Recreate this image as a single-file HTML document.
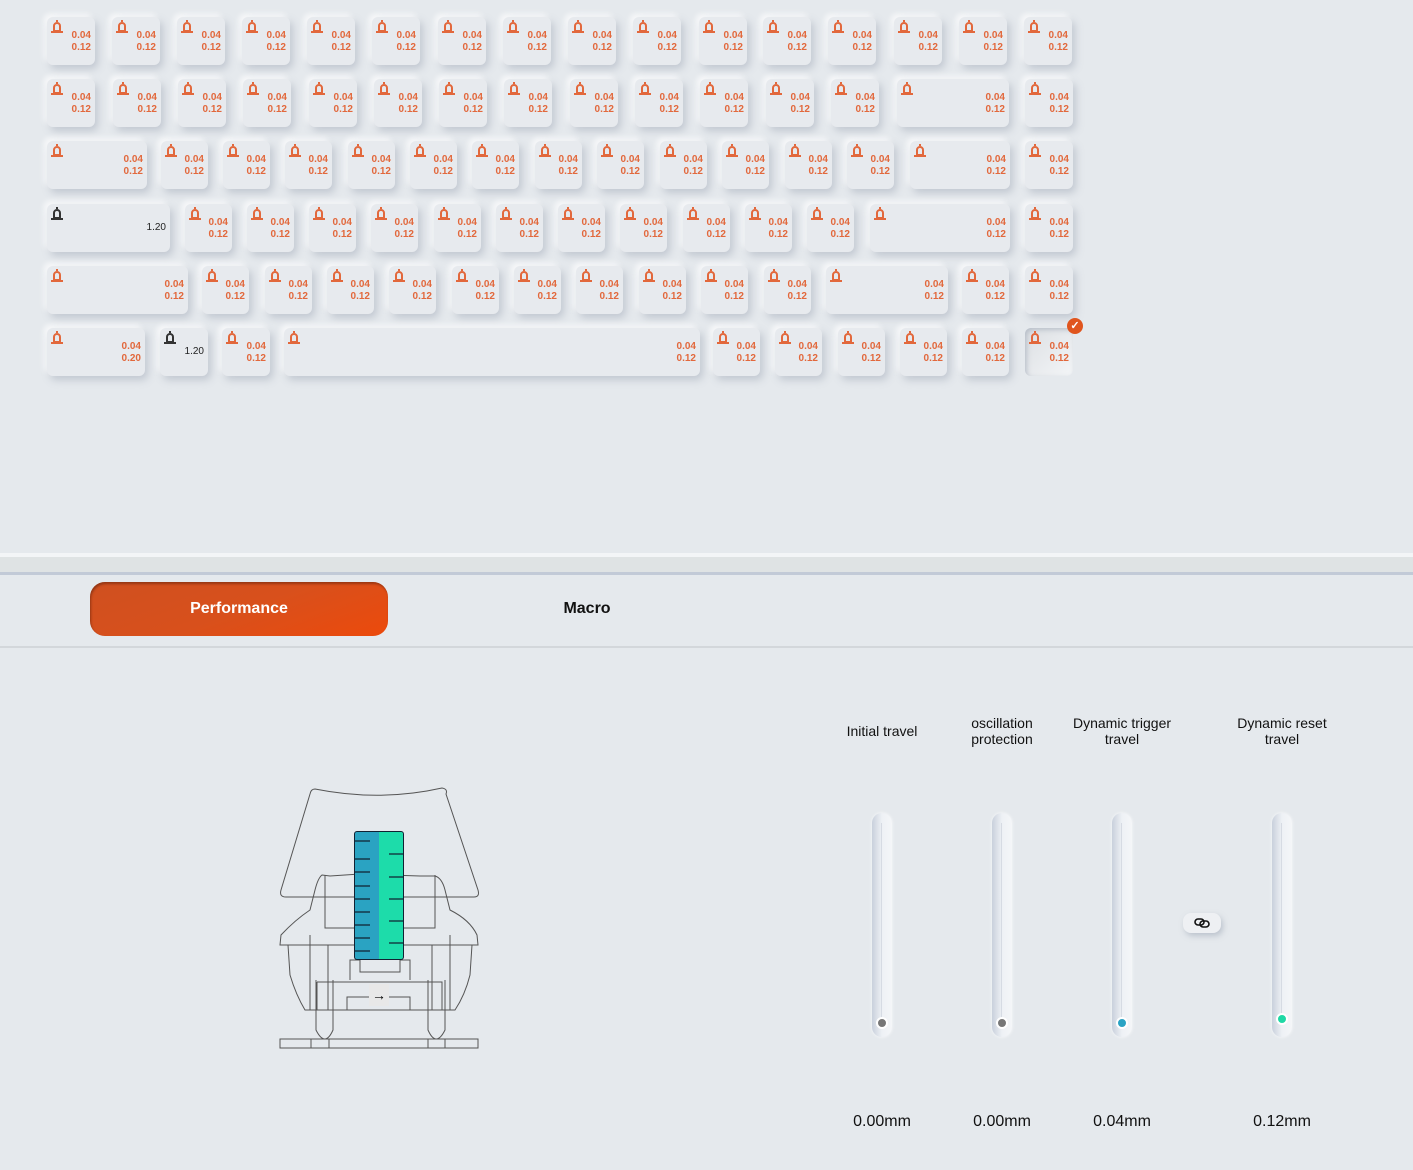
<!DOCTYPE html>
<html><head><meta charset="utf-8"><style>
*{margin:0;padding:0;box-sizing:border-box}
body{width:1413px;height:1170px;background:#e5e9ed;font-family:"Liberation Sans",sans-serif;position:relative;overflow:hidden}
.k{position:absolute;height:48px;width:48px;background:#e7eaee;border-radius:6px;box-shadow:3px 4px 8px rgba(150,160,175,.45),-3px -3px 6px rgba(255,255,255,.8)}
.k i{position:absolute;left:6px;top:5px;width:8px;height:10px;border:2px solid #e2683c;border-radius:5px 5px 2px 2px}
.k i:after{content:"";position:absolute;left:-4px;bottom:-3px;width:12px;height:2px;background:#e2683c}
.k i:before{content:"";position:absolute;left:1px;top:-4px;width:2px;height:2px;background:#e2683c}
.k b{position:absolute;right:4px;top:13px;font-size:10px;line-height:12px;color:#e2683c;text-align:right;font-weight:bold}
.k.d i{border-color:#333}.k.d i:after,.k.d i:before{background:#333}
.k.d b{color:#222;top:18px;font-weight:normal;font-size:10px}
.sel{background:linear-gradient(135deg,#dcdfe3,#f3f5f7);box-shadow:inset 2px 2px 5px rgba(150,160,175,.5)}
.chk{position:absolute;left:1067px;top:318px;width:16px;height:16px;border-radius:50%;background:#e0551e;color:#fff;font-size:11px;line-height:16px;text-align:center;font-weight:bold}
.t{position:absolute;width:20px;height:224px;border-radius:10px;background:linear-gradient(90deg,#c9d0dc,#eef1f5 50%,#f4f6f8);box-shadow:0 0 3px rgba(255,255,255,.8)}
.t:after{content:"";position:absolute;left:9px;top:10px;width:1px;height:200px;background:#d6dbe3}
.dot{position:absolute;width:12px;height:12px;border-radius:50%;border:2px solid #fff}
.lb{position:absolute;width:140px;text-align:center;font-size:14px;line-height:16px;color:#111}
.v{position:absolute;width:120px;text-align:center;font-size:16px;color:#111;top:1113px}
</style></head><body>
<div class="k" style="left:47px;top:17px"><i></i><b>0.04<br>0.12</b></div>
<div class="k" style="left:112px;top:17px"><i></i><b>0.04<br>0.12</b></div>
<div class="k" style="left:177px;top:17px"><i></i><b>0.04<br>0.12</b></div>
<div class="k" style="left:242px;top:17px"><i></i><b>0.04<br>0.12</b></div>
<div class="k" style="left:307px;top:17px"><i></i><b>0.04<br>0.12</b></div>
<div class="k" style="left:372px;top:17px"><i></i><b>0.04<br>0.12</b></div>
<div class="k" style="left:438px;top:17px"><i></i><b>0.04<br>0.12</b></div>
<div class="k" style="left:503px;top:17px"><i></i><b>0.04<br>0.12</b></div>
<div class="k" style="left:568px;top:17px"><i></i><b>0.04<br>0.12</b></div>
<div class="k" style="left:633px;top:17px"><i></i><b>0.04<br>0.12</b></div>
<div class="k" style="left:699px;top:17px"><i></i><b>0.04<br>0.12</b></div>
<div class="k" style="left:763px;top:17px"><i></i><b>0.04<br>0.12</b></div>
<div class="k" style="left:828px;top:17px"><i></i><b>0.04<br>0.12</b></div>
<div class="k" style="left:894px;top:17px"><i></i><b>0.04<br>0.12</b></div>
<div class="k" style="left:959px;top:17px"><i></i><b>0.04<br>0.12</b></div>
<div class="k" style="left:1024px;top:17px"><i></i><b>0.04<br>0.12</b></div>

<div class="k" style="left:47px;top:79px"><i></i><b>0.04<br>0.12</b></div>
<div class="k" style="left:113px;top:79px"><i></i><b>0.04<br>0.12</b></div>
<div class="k" style="left:178px;top:79px"><i></i><b>0.04<br>0.12</b></div>
<div class="k" style="left:243px;top:79px"><i></i><b>0.04<br>0.12</b></div>
<div class="k" style="left:309px;top:79px"><i></i><b>0.04<br>0.12</b></div>
<div class="k" style="left:374px;top:79px"><i></i><b>0.04<br>0.12</b></div>
<div class="k" style="left:439px;top:79px"><i></i><b>0.04<br>0.12</b></div>
<div class="k" style="left:504px;top:79px"><i></i><b>0.04<br>0.12</b></div>
<div class="k" style="left:570px;top:79px"><i></i><b>0.04<br>0.12</b></div>
<div class="k" style="left:635px;top:79px"><i></i><b>0.04<br>0.12</b></div>
<div class="k" style="left:700px;top:79px"><i></i><b>0.04<br>0.12</b></div>
<div class="k" style="left:766px;top:79px"><i></i><b>0.04<br>0.12</b></div>
<div class="k" style="left:831px;top:79px"><i></i><b>0.04<br>0.12</b></div>
<div class="k" style="left:897px;top:79px;width:112px"><i></i><b>0.04<br>0.12</b></div>
<div class="k" style="left:1025px;top:79px"><i></i><b>0.04<br>0.12</b></div>

<div class="k" style="left:47px;top:141px;width:100px"><i></i><b>0.04<br>0.12</b></div>
<div class="k" style="left:161px;top:141px;width:47px"><i></i><b>0.04<br>0.12</b></div>
<div class="k" style="left:223px;top:141px;width:47px"><i></i><b>0.04<br>0.12</b></div>
<div class="k" style="left:285px;top:141px;width:47px"><i></i><b>0.04<br>0.12</b></div>
<div class="k" style="left:348px;top:141px;width:47px"><i></i><b>0.04<br>0.12</b></div>
<div class="k" style="left:410px;top:141px;width:47px"><i></i><b>0.04<br>0.12</b></div>
<div class="k" style="left:472px;top:141px;width:47px"><i></i><b>0.04<br>0.12</b></div>
<div class="k" style="left:535px;top:141px;width:47px"><i></i><b>0.04<br>0.12</b></div>
<div class="k" style="left:597px;top:141px;width:47px"><i></i><b>0.04<br>0.12</b></div>
<div class="k" style="left:660px;top:141px;width:47px"><i></i><b>0.04<br>0.12</b></div>
<div class="k" style="left:722px;top:141px;width:47px"><i></i><b>0.04<br>0.12</b></div>
<div class="k" style="left:785px;top:141px;width:47px"><i></i><b>0.04<br>0.12</b></div>
<div class="k" style="left:847px;top:141px;width:47px"><i></i><b>0.04<br>0.12</b></div>
<div class="k" style="left:910px;top:141px;width:100px"><i></i><b>0.04<br>0.12</b></div>
<div class="k" style="left:1025px;top:141px"><i></i><b>0.04<br>0.12</b></div>

<div class="k d" style="left:47px;top:204px;width:123px"><i></i><b>1.20</b></div>
<div class="k" style="left:185px;top:204px;width:47px"><i></i><b>0.04<br>0.12</b></div>
<div class="k" style="left:247px;top:204px;width:47px"><i></i><b>0.04<br>0.12</b></div>
<div class="k" style="left:309px;top:204px;width:47px"><i></i><b>0.04<br>0.12</b></div>
<div class="k" style="left:371px;top:204px;width:47px"><i></i><b>0.04<br>0.12</b></div>
<div class="k" style="left:434px;top:204px;width:47px"><i></i><b>0.04<br>0.12</b></div>
<div class="k" style="left:496px;top:204px;width:47px"><i></i><b>0.04<br>0.12</b></div>
<div class="k" style="left:558px;top:204px;width:47px"><i></i><b>0.04<br>0.12</b></div>
<div class="k" style="left:620px;top:204px;width:47px"><i></i><b>0.04<br>0.12</b></div>
<div class="k" style="left:683px;top:204px;width:47px"><i></i><b>0.04<br>0.12</b></div>
<div class="k" style="left:745px;top:204px;width:47px"><i></i><b>0.04<br>0.12</b></div>
<div class="k" style="left:807px;top:204px;width:47px"><i></i><b>0.04<br>0.12</b></div>
<div class="k" style="left:870px;top:204px;width:140px"><i></i><b>0.04<br>0.12</b></div>
<div class="k" style="left:1025px;top:204px"><i></i><b>0.04<br>0.12</b></div>

<div class="k" style="left:47px;top:266px;width:141px"><i></i><b>0.04<br>0.12</b></div>
<div class="k" style="left:202px;top:266px;width:47px"><i></i><b>0.04<br>0.12</b></div>
<div class="k" style="left:265px;top:266px;width:47px"><i></i><b>0.04<br>0.12</b></div>
<div class="k" style="left:327px;top:266px;width:47px"><i></i><b>0.04<br>0.12</b></div>
<div class="k" style="left:389px;top:266px;width:47px"><i></i><b>0.04<br>0.12</b></div>
<div class="k" style="left:452px;top:266px;width:47px"><i></i><b>0.04<br>0.12</b></div>
<div class="k" style="left:514px;top:266px;width:47px"><i></i><b>0.04<br>0.12</b></div>
<div class="k" style="left:576px;top:266px;width:47px"><i></i><b>0.04<br>0.12</b></div>
<div class="k" style="left:639px;top:266px;width:47px"><i></i><b>0.04<br>0.12</b></div>
<div class="k" style="left:701px;top:266px;width:47px"><i></i><b>0.04<br>0.12</b></div>
<div class="k" style="left:764px;top:266px;width:47px"><i></i><b>0.04<br>0.12</b></div>
<div class="k" style="left:826px;top:266px;width:122px"><i></i><b>0.04<br>0.12</b></div>
<div class="k" style="left:962px;top:266px;width:47px"><i></i><b>0.04<br>0.12</b></div>
<div class="k" style="left:1025px;top:266px"><i></i><b>0.04<br>0.12</b></div>

<div class="k" style="left:47px;top:328px;width:98px"><i></i><b>0.04<br>0.20</b></div>
<div class="k d" style="left:160px;top:328px;width:48px"><i></i><b>1.20</b></div>
<div class="k" style="left:222px;top:328px;width:48px"><i></i><b>0.04<br>0.12</b></div>
<div class="k" style="left:284px;top:328px;width:416px"><i></i><b>0.04<br>0.12</b></div>
<div class="k" style="left:713px;top:328px;width:47px"><i></i><b>0.04<br>0.12</b></div>
<div class="k" style="left:775px;top:328px;width:47px"><i></i><b>0.04<br>0.12</b></div>
<div class="k" style="left:838px;top:328px;width:47px"><i></i><b>0.04<br>0.12</b></div>
<div class="k" style="left:900px;top:328px;width:47px"><i></i><b>0.04<br>0.12</b></div>
<div class="k" style="left:962px;top:328px;width:47px"><i></i><b>0.04<br>0.12</b></div>
<div class="k sel" style="left:1025px;top:328px"><i></i><b>0.04<br>0.12</b></div>
<div class="chk">✓</div>

<div style="position:absolute;left:0;top:553px;width:1413px;height:4px;background:#f3f5f7"></div>
<div style="position:absolute;left:0;top:557px;width:1413px;height:15px;background:#dfe3e4"></div>
<div style="position:absolute;left:0;top:572px;width:1413px;height:3px;background:#c2cad7"></div>
<div style="position:absolute;left:0;top:646px;width:1413px;height:2px;background:#d3d7db"></div>
<div style="position:absolute;left:90px;top:582px;width:298px;height:54px;border-radius:15px;background:linear-gradient(160deg,#cf5020,#d8501c 50%,#ec4a0c);box-shadow:inset 1px 2px 2px rgba(90,30,10,.5);color:#fff;font-weight:bold;font-size:16px;line-height:54px;text-align:center">Performance</div>
<div style="position:absolute;left:527px;top:600px;width:120px;text-align:center;font-size:16px;color:#111;font-weight:bold">Macro</div>

<svg style="position:absolute;left:270px;top:780px" width="220" height="280" viewBox="0 0 220 280" fill="none" stroke="#555" stroke-width="1">
<path d="M45 9 Q110 22 172 8 Q178 9 176 14 L208 110 Q210 117 204 117 L16 117 Q9 117 11 110 L40 14 Q41 9 45 9Z"/>
<path d="M52 95 L60 96 L90 94 L150 96 L165 96 Q172 98 175 110 L180 130 Q200 140 207 155 L208 165 L10 165 L11 155 Q25 140 40 130 L45 110 Q48 98 52 95Z"/>
<path d="M18 165 L20 195 Q26 215 35 230 L185 230 Q195 215 200 195 L202 165"/>
<path d="M55 95 L55 148 L100 148 M120 148 L165 148 L165 95"/>
<path d="M40 155 L40 230 M58 165 L58 230 M180 155 L180 230 M162 165 L162 230"/>
<path d="M46 200 L46 250 Q55 268 63 250 L63 200 M158 200 L158 250 Q166 268 175 250 L175 200"/>
<path d="M10 259 L208 259 L208 268 L10 268Z M41 259 L41 268 M59 259 L59 268 M158 259 L158 268 M175 259 L175 268"/>
<path d="M47 202 L172 202 L172 230 M47 202 L47 230 M77 230 L77 217 L140 217 L140 230"/>
<path d="M80 200 L80 180 L90 180 L90 192 L130 192 L130 180 L140 180 L140 200"/>
</svg>
<div style="position:absolute;left:354px;top:831px;width:50px;height:129px;border-radius:3px;border:1px solid #123;background:linear-gradient(90deg,#2aa3c2 50%,#1ddcaa 50%);overflow:hidden">
<svg width="50" height="129" stroke="#123" stroke-width="1.2"><path d="M0 9H15M0 27H15M0 40H15M0 54H15M0 67H15M0 80H15M0 93H15M0 106H15M0 119H15M34 22H48M34 45H48M34 67H48M34 89H48M34 111H48"/></svg></div>
<div style="position:absolute;left:369px;top:984px;width:20px;height:22px;background:#e8e8e8;font-size:14px;text-align:center;line-height:22px">→</div>

<div class="lb" style="left:812px;top:723px">Initial travel</div>
<div class="lb" style="left:932px;top:715px">oscillation<br>protection</div>
<div class="lb" style="left:1052px;top:715px">Dynamic trigger<br>travel</div>
<div class="lb" style="left:1212px;top:715px">Dynamic reset<br>travel</div>

<div class="t" style="left:872px;top:813px"></div>
<div class="t" style="left:992px;top:813px"></div>
<div class="t" style="left:1112px;top:813px"></div>
<div class="t" style="left:1272px;top:813px"></div>
<div class="dot" style="left:876px;top:1017px;background:#777"></div>
<div class="dot" style="left:996px;top:1017px;background:#777"></div>
<div class="dot" style="left:1116px;top:1017px;background:#2aa3c4"></div>
<div class="dot" style="left:1276px;top:1013px;background:#1ed8a5"></div>
<div style="position:absolute;left:1183px;top:913px;width:38px;height:20px;border-radius:8px;background:#eef0f3;box-shadow:2px 3px 6px rgba(150,160,175,.5)">
<svg style="position:absolute;left:11px;top:5px" width="16" height="10" fill="none" stroke="#111" stroke-width="1.6"><rect x="1" y="1" width="9" height="6" rx="3"/><rect x="6" y="3" width="9" height="6" rx="3"/></svg></div>

<div class="v" style="left:822px">0.00mm</div>
<div class="v" style="left:942px">0.00mm</div>
<div class="v" style="left:1062px">0.04mm</div>
<div class="v" style="left:1222px">0.12mm</div>
</body></html>
